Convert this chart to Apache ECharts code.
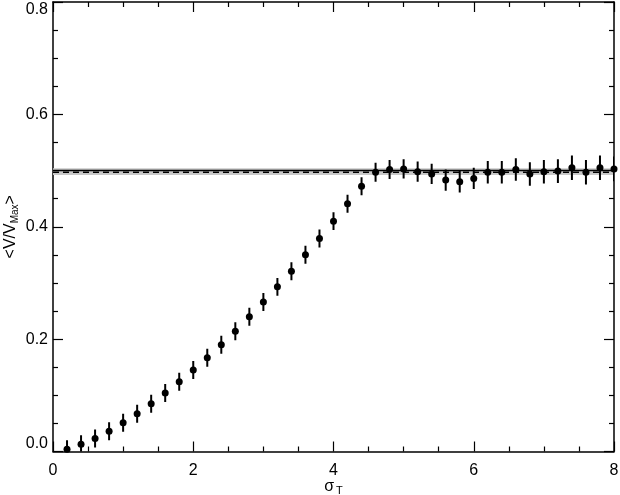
<!DOCTYPE html>
<html>
<head>
<meta charset="utf-8">
<script src="https://cdn.jsdelivr.net/npm/echarts@6/dist/echarts.min.js"></script>
<style>html,body{margin:0;padding:0;background:#fff}#c{width:620px;height:495px}</style>
</head>
<body>
<div id="c"></div>
<script>
const sigmaT = [0.2,0.4,0.6,0.8,1.0,1.2,1.4,1.6,1.8,2.0,2.2,2.4,2.6,2.8,3.0,3.2,3.4,3.6,3.8,4.0,
  4.2,4.4,4.6,4.8,5.0,5.2,5.4,5.6,5.8,6.0,6.2,6.4,6.6,6.8,7.0,7.2,7.4,7.6,7.8,8.0];
const vvmax = [0.004,0.013,0.023,0.036,0.051,0.067,0.085,0.104,0.124,0.145,0.167,0.190,0.214,0.240,0.266,0.293,0.321,0.350,0.379,0.410,
  0.441,0.472,0.497,0.502,0.503,0.498,0.494,0.483,0.480,0.486,0.497,0.497,0.502,0.494,0.498,0.499,0.505,0.497,0.505,0.503];
const vvmaxErr = [0.016,0.016,0.016,0.016,0.016,0.016,0.016,0.016,0.016,0.016,0.016,0.016,0.016,0.016,0.016,0.016,0.016,0.016,0.016,0.016,
  0.016,0.016,0.017,0.017,0.017,0.018,0.018,0.019,0.019,0.019,0.020,0.020,0.020,0.021,0.021,0.021,0.022,0.022,0.022,0.022];
const bandLow = 0.492, bandHigh = 0.504;
const refLine = 0.5, meanLine = 0.497;
const xTicks = {min:0, max:8, interval:2};
const yTicks = {min:0, max:0.8, interval:0.2};

const pts = sigmaT.map((x,i)=>[x, vvmax[i]]);
const errs = sigmaT.map((x,i)=>[x, vvmax[i]-vvmaxErr[i], vvmax[i]+vvmaxErr[i]]);

const font = "'Liberation Sans', Arial, sans-serif";
const axisCommon = (show) => ({
  axisLine:{show:true, onZero:false, lineStyle:{color:'#000', width:1.5}},
  axisTick:{show:true, inside:true, length:10, lineStyle:{color:'#000', width:1.2}},
  minorTick:{show:true, splitNumber:4, length:5, lineStyle:{color:'#000', width:1.2}},
  splitLine:{show:false}, minorSplitLine:{show:false},
  axisLabel:{show:show}
});

const chart = echarts.init(document.getElementById('c'));
chart.setOption({
  animation:false,
  backgroundColor:'#fff',
  grid:{left:53, right:6, top:2, bottom:43.5, containLabel:false, outerBoundsMode:'none'},
  xAxis:[
    Object.assign({type:'value', position:'bottom', min:xTicks.min, max:xTicks.max, interval:xTicks.interval,
      name:'{a|σ}{s|T}', nameLocation:'middle', nameGap:26, nameMoveOverlap:false,
      nameTextStyle:{rich:{a:{fontFamily:font, fontSize:16, color:'#000'}, s:{fontFamily:font, fontSize:11, color:'#000', verticalAlign:'bottom', padding:[8,0,0,2]}}}
    }, axisCommon(true), {axisLabel:{show:true, color:'#000', fontFamily:font, fontSize:16, margin:11}}),
    Object.assign({type:'value', position:'top', min:xTicks.min, max:xTicks.max, interval:xTicks.interval}, axisCommon(false))
  ],
  yAxis:[
    Object.assign({type:'value', position:'left', min:yTicks.min, max:yTicks.max, interval:yTicks.interval,
      name:'{a|<V/V}{s|Max}{a|>}', nameLocation:'middle', nameGap:33, nameMoveOverlap:false,
      nameTextStyle:{rich:{a:{fontFamily:font, fontSize:16, color:'#000'}, s:{fontFamily:font, fontSize:10, color:'#000', verticalAlign:'bottom', padding:[8,0,0,0]}}}
    }, axisCommon(true), {axisLabel:{show:true, color:'#000', fontFamily:font, fontSize:16, margin:5,
      verticalAlignMinLabel:'bottom', verticalAlignMaxLabel:'top', formatter:v=>v.toFixed(1)}}),
    Object.assign({type:'value', position:'right', min:yTicks.min, max:yTicks.max, interval:yTicks.interval}, axisCommon(false))
  ],
  series:[
    {
      type:'custom', xAxisIndex:0, yAxisIndex:0, clip:true, silent:true, z:1,
      data:[[xTicks.min, xTicks.max]],
      renderItem:(params, api)=>{
        const p1 = api.coord([api.value(0), bandHigh]);
        const p2 = api.coord([api.value(1), bandLow]);
        const r1 = api.coord([api.value(0), refLine]);
        const r2 = api.coord([api.value(1), refLine]);
        const m1 = api.coord([api.value(0), meanLine]);
        const m2 = api.coord([api.value(1), meanLine]);
        return {type:'group', children:[
          {type:'rect', shape:{x:p1[0], y:p1[1], width:p2[0]-p1[0], height:p2[1]-p1[1]}, style:{fill:'#c8c8c8'}},
          {type:'line', shape:{x1:r1[0], y1:r1[1], x2:r2[0], y2:r2[1]}, style:{stroke:'#000', lineWidth:1.5}},
          {type:'line', shape:{x1:m1[0], y1:m1[1], x2:m2[0], y2:m2[1]}, style:{stroke:'#000', lineWidth:1.5, lineDash:[6,4]}}
        ]};
      }
    },
    {
      type:'custom', xAxisIndex:0, yAxisIndex:0, clip:true, silent:true, z:2,
      data:errs,
      renderItem:(params, api)=>{
        const a = api.coord([api.value(0), api.value(1)]);
        const b = api.coord([api.value(0), api.value(2)]);
        return {type:'line', shape:{x1:a[0], y1:a[1], x2:b[0], y2:b[1]}, style:{stroke:'#000', lineWidth:2}};
      }
    },
    {
      type:'scatter', xAxisIndex:0, yAxisIndex:0, clip:true, z:3,
      data:pts, symbol:'circle', symbolSize:7,
      itemStyle:{color:'#000', opacity:1}
    }
  ]
});
</script>
</body>
</html>
